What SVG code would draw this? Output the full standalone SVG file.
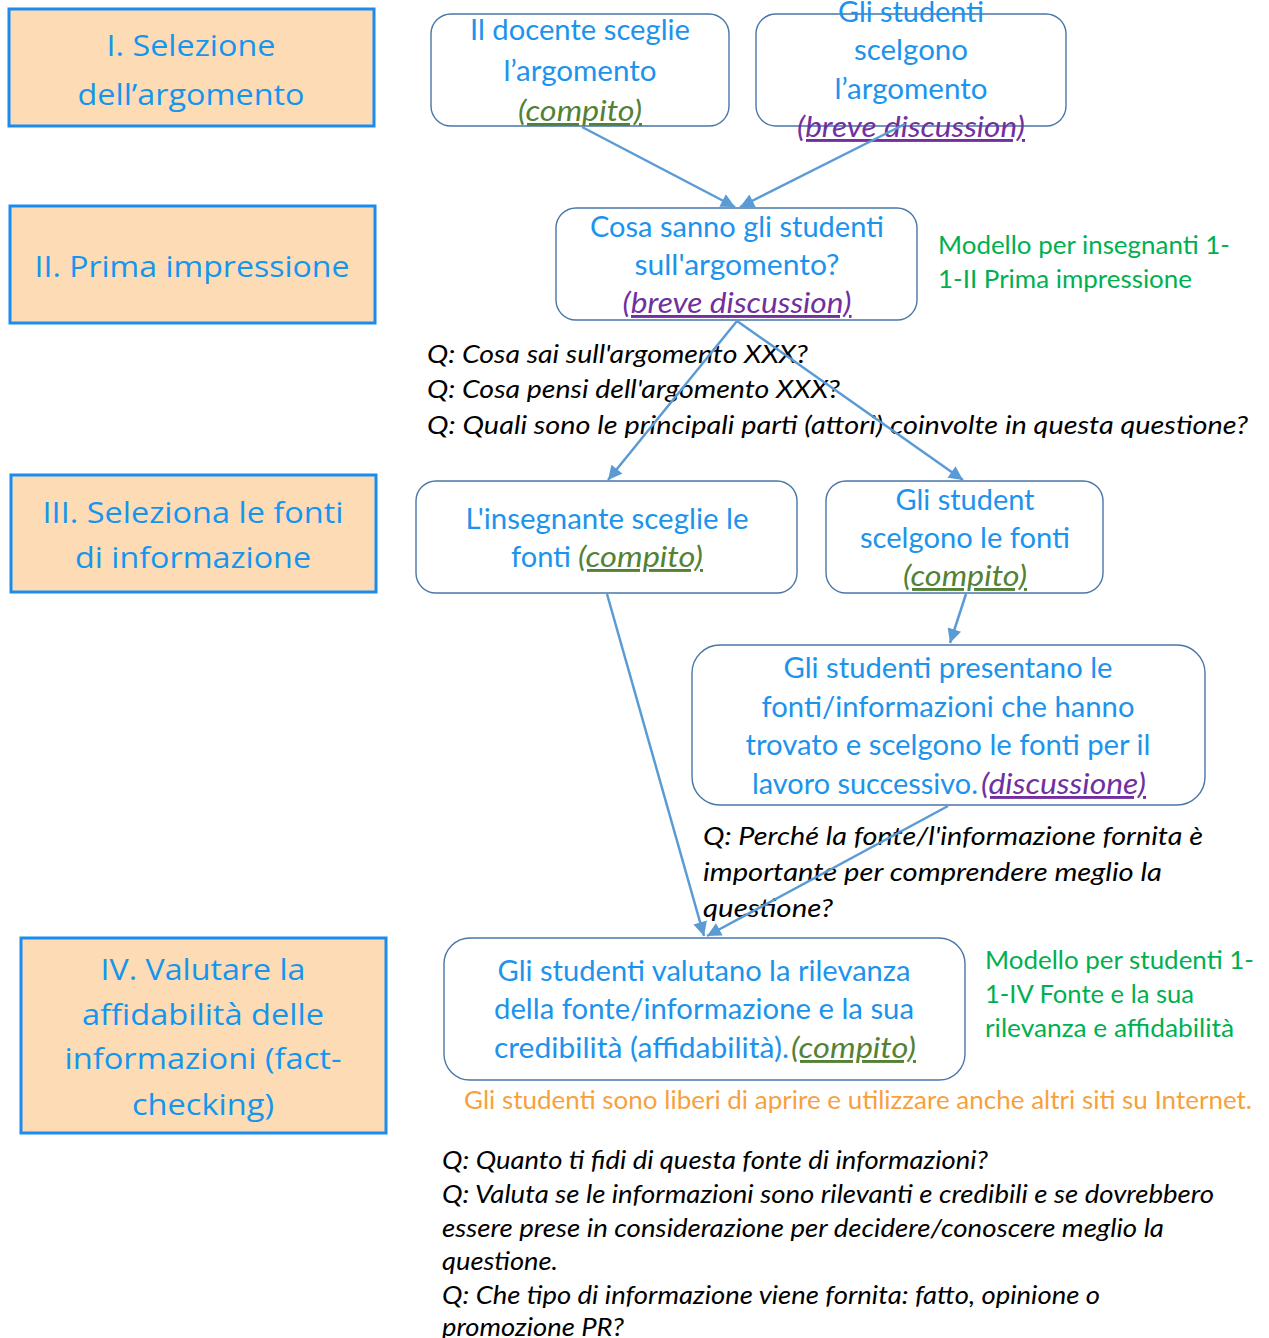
<svg xmlns="http://www.w3.org/2000/svg" width="1269" height="1338" viewBox="0 0 1269 1338">
<style>
.stage{fill:#FDDBB5;stroke:#1A8CF0;stroke-width:3}
.st{font-family:"Open Sans","Noto Sans",sans-serif;font-size:30px;fill:#1496EE;text-anchor:middle}
.node{fill:#FFFFFF;stroke:#4A76A8;stroke-width:1.4}
.nt{font-family:Lato,"Liberation Sans",sans-serif;font-size:29px;fill:#1C93EC}
.c{text-anchor:middle}
.cg{font-style:italic;fill:#548235;text-decoration:underline}
.cp{font-style:italic;fill:#7030A0;text-decoration:underline}
.q{font-family:Lato,"Liberation Sans",sans-serif;font-size:25.5px;font-style:italic;fill:#000000}
.gr{font-family:Lato,"Liberation Sans",sans-serif;font-size:25.5px;fill:#00B050}
.or{font-family:Lato,"Liberation Sans",sans-serif;font-size:25.5px;fill:#F7A13C}
.conn{stroke:#5B9BD5;stroke-width:2.5;fill:none;marker-end:url(#arr)}
</style>
<defs>
<marker id="arr" viewBox="0 0 10 10" refX="10" refY="5" markerWidth="15" markerHeight="14" markerUnits="userSpaceOnUse" orient="auto">
<path d="M0,0 L10,5 L0,10 z" fill="#5B9BD5"/>
</marker>
</defs>
<rect width="1269" height="1338" fill="#FFFFFF"/>

<g id="stage1">
<rect class="stage" x="9" y="9" width="365" height="117"/>
<text class="st" x="191" y="56" textLength="169" lengthAdjust="spacingAndGlyphs">I. Selezione</text>
<text class="st" x="191" y="105" textLength="227" lengthAdjust="spacingAndGlyphs">dell’argomento</text>
</g>
<g id="stage2">
<rect class="stage" x="10" y="206" width="365" height="117"/>
<text class="st" x="192" y="277" textLength="315" lengthAdjust="spacingAndGlyphs">II. Prima impressione</text>
</g>
<g id="stage3">
<rect class="stage" x="11" y="475" width="365" height="117"/>
<text class="st" x="193" y="523" textLength="301" lengthAdjust="spacingAndGlyphs">III. Seleziona le fonti</text>
<text class="st" x="193" y="568" textLength="236" lengthAdjust="spacingAndGlyphs">di informazione</text>
</g>
<g id="stage4">
<rect class="stage" x="21" y="938" width="365" height="195"/>
<text class="st" x="203" y="980" textLength="205" lengthAdjust="spacingAndGlyphs">IV. Valutare la</text>
<text class="st" x="203" y="1025" textLength="242" lengthAdjust="spacingAndGlyphs">affidabilità delle</text>
<text class="st" x="203" y="1069" textLength="277" lengthAdjust="spacingAndGlyphs">informazioni (fact-</text>
<text class="st" x="203" y="1115" textLength="142" lengthAdjust="spacingAndGlyphs">checking)</text>
</g>

<g id="nodeA">
<rect class="node" x="431" y="14" width="298" height="112" rx="20"/>
<text class="nt c" x="580" y="40" textLength="220" lengthAdjust="spacingAndGlyphs">Il docente sceglie</text>
<text class="nt c" x="580" y="81" textLength="153" lengthAdjust="spacingAndGlyphs">l’argomento</text>
<text class="nt c cg" x="580" y="121" textLength="124" lengthAdjust="spacingAndGlyphs">(compito)</text>
</g>
<g id="nodeB">
<rect class="node" x="756" y="14" width="310" height="112" rx="20"/>
<text class="nt c" x="911" y="22" textLength="146" lengthAdjust="spacingAndGlyphs">Gli studenti</text>
<text class="nt c" x="911" y="60" textLength="114" lengthAdjust="spacingAndGlyphs">scelgono</text>
<text class="nt c" x="911" y="99" textLength="153" lengthAdjust="spacingAndGlyphs">l’argomento</text>
<text class="nt c cp" x="911" y="137" textLength="228" lengthAdjust="spacingAndGlyphs">(breve discussion)</text>
</g>
<g id="nodeC">
<rect class="node" x="556" y="208" width="361" height="112" rx="20"/>
<text class="nt c" x="737" y="237" textLength="294" lengthAdjust="spacingAndGlyphs">Cosa sanno gli studenti</text>
<text class="nt c" x="737" y="275" textLength="205" lengthAdjust="spacingAndGlyphs">sull'argomento?</text>
<text class="nt c cp" x="737" y="313" textLength="229" lengthAdjust="spacingAndGlyphs">(breve discussion)</text>
</g>
<g id="nodeD">
<rect class="node" x="416" y="481" width="381" height="112" rx="20"/>
<text class="nt c" x="607" y="529" textLength="283" lengthAdjust="spacingAndGlyphs">L'insegnante sceglie le</text>
<text class="nt" x="511" y="567" textLength="60" lengthAdjust="spacingAndGlyphs">fonti</text>
<text class="nt cg" x="578" y="567" textLength="125" lengthAdjust="spacingAndGlyphs">(compito)</text>
</g>
<g id="nodeE">
<rect class="node" x="826" y="481" width="277" height="112" rx="20"/>
<text class="nt c" x="965" y="510" textLength="139" lengthAdjust="spacingAndGlyphs">Gli student</text>
<text class="nt c" x="965" y="548" textLength="210" lengthAdjust="spacingAndGlyphs">scelgono le fonti</text>
<text class="nt c cg" x="965" y="586" textLength="124" lengthAdjust="spacingAndGlyphs">(compito)</text>
</g>
<g id="nodeF">
<rect class="node" x="692" y="645" width="513" height="160" rx="28"/>
<text class="nt c" x="948" y="678" textLength="329" lengthAdjust="spacingAndGlyphs">Gli studenti presentano le</text>
<text class="nt c" x="948" y="717" textLength="373" lengthAdjust="spacingAndGlyphs">fonti/informazioni che hanno</text>
<text class="nt c" x="948" y="755" textLength="405" lengthAdjust="spacingAndGlyphs">trovato e scelgono le fonti per il</text>
<text class="nt" x="752" y="794" textLength="226" lengthAdjust="spacingAndGlyphs">lavoro successivo.</text>
<text class="nt cp" x="981" y="794" textLength="165" lengthAdjust="spacingAndGlyphs">(discussione)</text>
</g>
<g id="nodeG">
<rect class="node" x="444" y="938" width="521" height="142" rx="26"/>
<text class="nt c" x="704" y="981" textLength="413" lengthAdjust="spacingAndGlyphs">Gli studenti valutano la rilevanza</text>
<text class="nt c" x="704" y="1019" textLength="420" lengthAdjust="spacingAndGlyphs">della fonte/informazione e la sua</text>
<text class="nt" x="494" y="1058" textLength="295" lengthAdjust="spacingAndGlyphs">credibilità (affidabilità).</text>
<text class="nt cg" x="791" y="1058" textLength="125" lengthAdjust="spacingAndGlyphs">(compito)</text>
</g>

<g id="note-teacher">
<text class="gr" x="938" y="254" textLength="292" lengthAdjust="spacingAndGlyphs">Modello per insegnanti 1-</text>
<text class="gr" x="938" y="288" textLength="254" lengthAdjust="spacingAndGlyphs">1-II Prima impressione</text>
</g>
<g id="note-student">
<text class="gr" x="985" y="969" textLength="269" lengthAdjust="spacingAndGlyphs">Modello per studenti 1-</text>
<text class="gr" x="985" y="1003" textLength="209" lengthAdjust="spacingAndGlyphs">1-IV Fonte e la sua</text>
<text class="gr" x="985" y="1037" textLength="249" lengthAdjust="spacingAndGlyphs">rilevanza e affidabilità</text>
</g>
<g id="note-free">
<text class="or" x="464" y="1109" textLength="788" lengthAdjust="spacingAndGlyphs">Gli studenti sono liberi di aprire e utilizzare anche altri siti su Internet.</text>
</g>
<g id="questions-II">
<text class="q" x="427" y="363" textLength="381" lengthAdjust="spacingAndGlyphs">Q: Cosa sai sull'argomento XXX?</text>
<text class="q" x="427" y="398" textLength="413" lengthAdjust="spacingAndGlyphs">Q: Cosa pensi dell'argomento XXX?</text>
<text class="q" x="427" y="434" textLength="821" lengthAdjust="spacingAndGlyphs">Q: Quali sono le principali parti (attori) coinvolte in questa questione?</text>
</g>
<g id="questions-III">
<text class="q" x="703" y="845" textLength="500" lengthAdjust="spacingAndGlyphs">Q: Perché la fonte/l'informazione fornita è</text>
<text class="q" x="703" y="881" textLength="459" lengthAdjust="spacingAndGlyphs">importante per comprendere meglio la</text>
<text class="q" x="703" y="917" textLength="130" lengthAdjust="spacingAndGlyphs">questione?</text>
</g>
<g id="questions-IV">
<text class="q" x="442" y="1169" textLength="546" lengthAdjust="spacingAndGlyphs">Q: Quanto ti fidi di questa fonte di informazioni?</text>
<text class="q" x="442" y="1203" textLength="772" lengthAdjust="spacingAndGlyphs">Q: Valuta se le informazioni sono rilevanti e credibili e se dovrebbero</text>
<text class="q" x="442" y="1237" textLength="722" lengthAdjust="spacingAndGlyphs">essere prese in considerazione per decidere/conoscere meglio la</text>
<text class="q" x="442" y="1270" textLength="116" lengthAdjust="spacingAndGlyphs">questione.</text>
<text class="q" x="442" y="1304" textLength="658" lengthAdjust="spacingAndGlyphs">Q: Che tipo di informazione viene fornita: fatto, opinione o</text>
<text class="q" x="442" y="1336" textLength="182" lengthAdjust="spacingAndGlyphs">promozione PR?</text>
</g>

<g id="connectors">
<line class="conn" x1="582" y1="127" x2="735" y2="207"/>
<line class="conn" x1="905" y1="124" x2="740" y2="207"/>
<line class="conn" x1="737" y1="321" x2="608" y2="480"/>
<line class="conn" x1="737" y1="321" x2="963" y2="480"/>
<line class="conn" x1="966" y1="594" x2="950" y2="643"/>
<line class="conn" x1="607" y1="594" x2="704" y2="936"/>
<line class="conn" x1="948" y1="806" x2="707" y2="936"/>
</g>
</svg>
